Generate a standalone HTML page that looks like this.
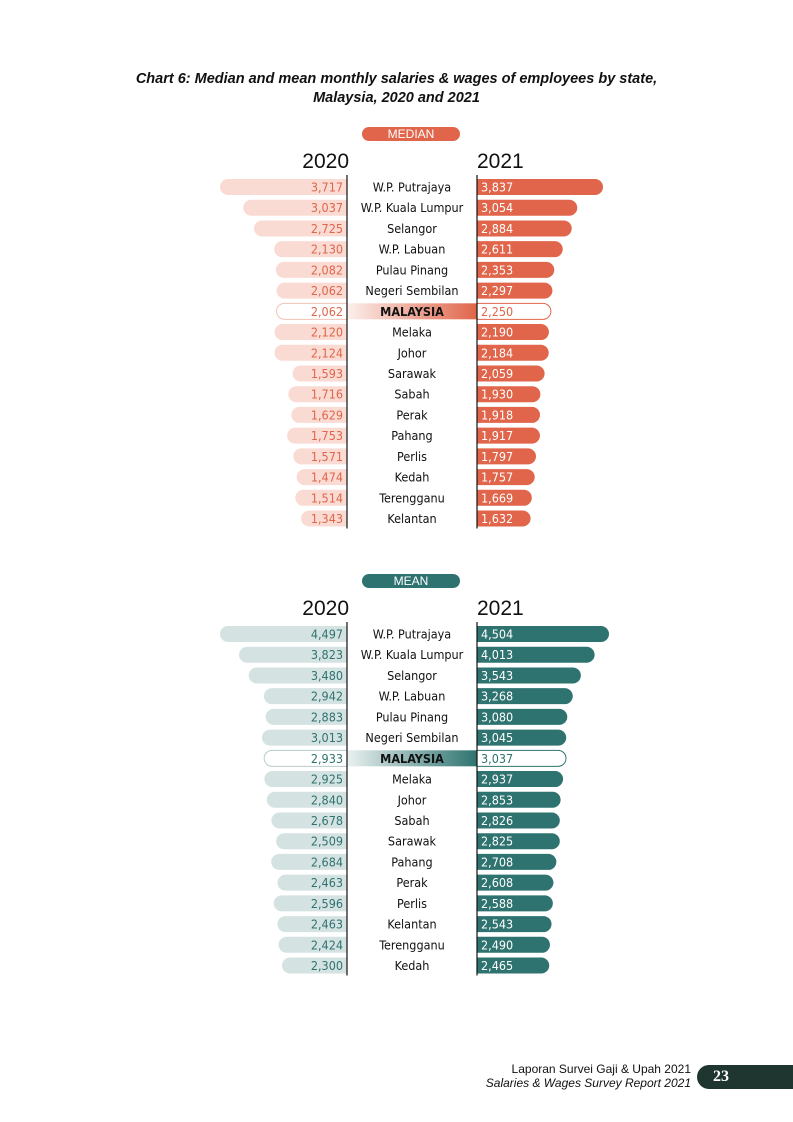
<!DOCTYPE html>
<html><head><meta charset="utf-8">
<style>
body{margin:0;background:#fff;}
#root{position:relative;width:793px;height:1122px;font-family:"Liberation Sans",sans-serif;overflow:hidden;}
.title{position:absolute;left:0;width:793px;top:70px;text-align:center;font-weight:bold;font-style:italic;font-size:14.5px;line-height:19px;color:#111;}
.footer{position:absolute;right:102px;top:1062px;text-align:right;font-size:12px;line-height:14px;color:#111;}
.pg{position:absolute;left:697px;top:1065px;width:110px;height:24px;background:#1e3530;border-radius:12px 0 0 12px;color:#fff;font-family:"Liberation Serif",serif;font-weight:bold;font-size:16px;line-height:24px;padding-left:16px;box-sizing:border-box;}
</style></head><body>
<div id="root">
<div class="title">Chart 6: Median and mean monthly salaries &amp; wages of employees by state,<br>Malaysia, 2020 and 2021</div>
<svg id="svg" width="793" height="1122" style="position:absolute;left:0;top:0"></svg>
<div class="footer">Laporan Survei Gaji &amp; Upah 2021<br><i>Salaries &amp; Wages Survey Report 2021</i></div>
<div class="pg">23</div>
</div>
<script>
const medStates=["W.P. Putrajaya","W.P. Kuala Lumpur","Selangor","W.P. Labuan","Pulau Pinang","Negeri Sembilan","MALAYSIA","Melaka","Johor","Sarawak","Sabah","Perak","Pahang","Perlis","Kedah","Terengganu","Kelantan"];
const med2020=[3717,3037,2725,2130,2082,2062,2062,2120,2124,1593,1716,1629,1753,1571,1474,1514,1343];
const med2021=[3837,3054,2884,2611,2353,2297,2250,2190,2184,2059,1930,1918,1917,1797,1757,1669,1632];
const meanStates=["W.P. Putrajaya","W.P. Kuala Lumpur","Selangor","W.P. Labuan","Pulau Pinang","Negeri Sembilan","MALAYSIA","Melaka","Johor","Sabah","Sarawak","Pahang","Perak","Perlis","Kelantan","Terengganu","Kedah"];
const mean2020=[4497,3823,3480,2942,2883,3013,2933,2925,2840,2678,2509,2684,2463,2596,2463,2424,2300];
const mean2021=[4504,4013,3543,3268,3080,3045,3037,2937,2853,2826,2825,2708,2608,2588,2543,2490,2465];

const NS="http://www.w3.org/2000/svg";
const svg=document.getElementById('svg');
function el(t,a,p){const e=document.createElementNS(NS,t);for(const k in a)e.setAttribute(k,a[k]);(p||svg).appendChild(e);return e;}
function fmt(v){return v.toLocaleString('en-US');}
const defs=el('defs',{});
function grad(id,c){const g=el('linearGradient',{id:id,x1:0,x2:1,y1:0,y2:0},defs);el('stop',{offset:0,'stop-color':c,'stop-opacity':0.1},g);el('stop',{offset:1,'stop-color':c,'stop-opacity':1},g);}
grad('gm','#e0654a');grad('gt','#2e7370');

function panel(o){
  const L=347,R=477,pitch=20.72,bh=16;
  const sL=127/o.max20, sR=o.rmax/o.max21;
  const g=el('g',{});
  
  
  const pill=el('rect',{x:362,y:o.y0-60,width:98,height:14,rx:7,fill:o.dark},g);
  
  
  const pt=el('text',{x:411,y:o.y0-49,'text-anchor':'middle','font-size':12,fill:'#fff'},g);pt.textContent=o.label;
  
  
  const y1=el('text',{x:349,y:o.y0-19,'text-anchor':'end','font-size':21,fill:'#111'},g);y1.textContent='2020';
  
  
  const y2=el('text',{x:477,y:o.y0-19,'font-size':21,fill:'#111'},g);y2.textContent='2021';
  
  
  o.states.forEach((s,i)=>{
    const cy=o.y0+i*pitch, top=cy-bh/2;
    const isM=s==='MALAYSIA';
    const w20=o.v20[i]*sL, w21=o.v21[i]*sR;
    if(isM){
      const band=el('rect',{x:L,y:top,width:R-L,height:bh,fill:'url(#'+o.grad+')'},g);
      
      
    }
    const b1=el('path',{d:`M${L},${top} H${L-w20+8} A8,8 0 0 0 ${L-w20+8},${top+bh} H${L} Z`,fill:isM?'#fff':o.light,stroke:isM?o.light2:'none','stroke-width':1},g);
    
    
    const b2=el('path',{d:`M${R},${top} H${R+w21-8} A8,8 0 0 1 ${R+w21-8},${top+bh} H${R} Z`,fill:isM?'#fff':o.dark,stroke:isM?o.dark:'none','stroke-width':1},g);
    
    
    const t1=el('text',{x:343,y:cy+4.5,'text-anchor':'end','font-size':12.5,fill:o.dark,'font-family':'DejaVu Sans Condensed, Liberation Sans, sans-serif'},g);t1.textContent=fmt(o.v20[i]);
    
    
    const t2=el('text',{x:481,y:cy+4.5,'font-size':12.5,fill:isM?o.dark:'#fff','font-family':'DejaVu Sans Condensed, Liberation Sans, sans-serif'},g);t2.textContent=fmt(o.v21[i]);
    
    
    const t3=el('text',{x:412,y:cy+4.5,'text-anchor':'middle','font-size':12.5,fill:'#111','font-weight':isM?'bold':'normal','font-family':'DejaVu Sans Condensed, Liberation Sans, sans-serif'},g);t3.textContent=s;
    
    
  });
  const a1=el('line',{x1:L,x2:L,y1:o.y0-12,y2:o.y0+16*pitch+10,stroke:'#111','stroke-width':1.2},g);
  
  
  const a2=el('line',{x1:R,x2:R,y1:o.y0-12,y2:o.y0+16*pitch+10,stroke:'#111','stroke-width':1.2},g);
  
  
}
panel({key:'median',label:'MEDIAN',y0:187,states:medStates,v20:med2020,v21:med2021,max20:3717,max21:3837,rmax:126,dark:'#e0654a',light:'#fadbd3',light2:'#f0c4b8',grad:'gm'});
panel({key:'mean',label:'MEAN',y0:634,states:meanStates,v20:mean2020,v21:mean2021,max20:4497,max21:4504,rmax:132,dark:'#2e7370',light:'#d5e2e2',light2:'#b8cccc',grad:'gt'});
</script>
</body></html>
